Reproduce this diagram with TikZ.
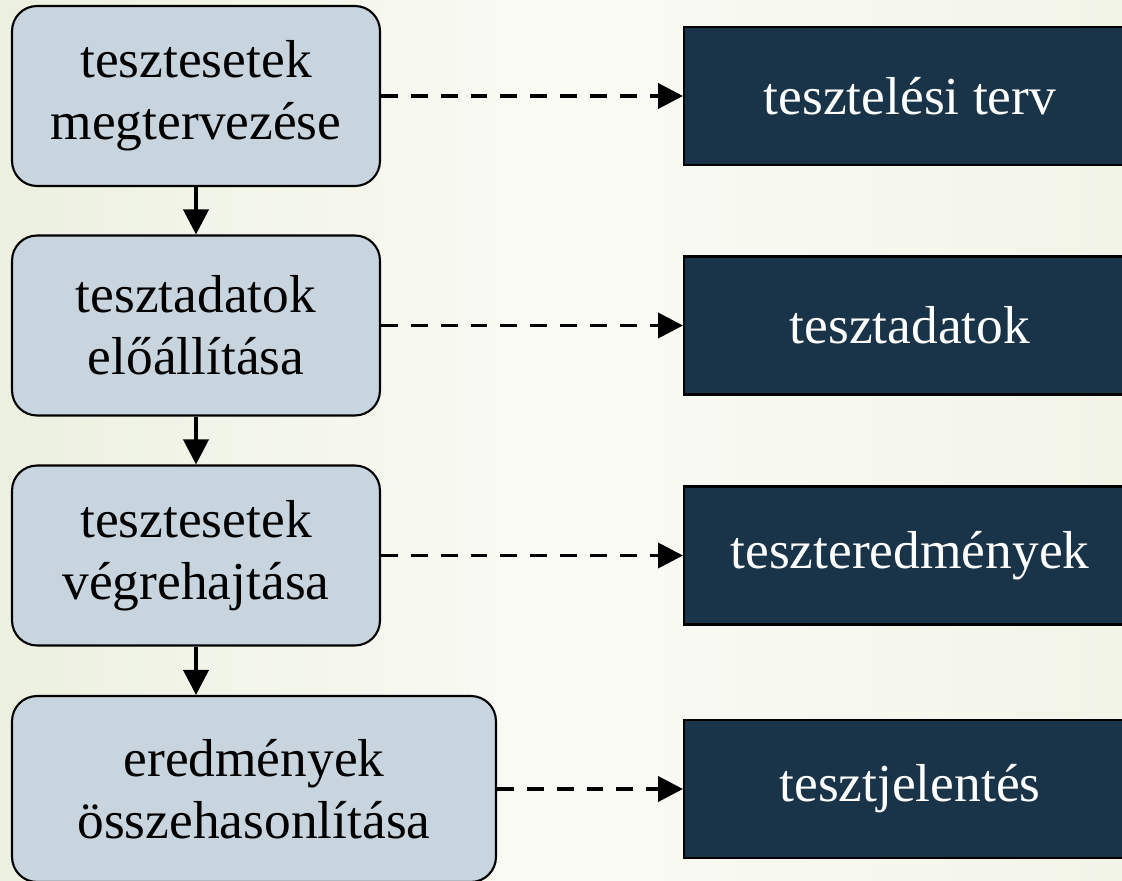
\documentclass[tikz,border=0pt]{standalone}
\usepackage{fontspec}
\setmainfont{Liberation Serif}
\usepackage{xcolor}
\usetikzlibrary{arrows.meta,positioning}
\definecolor{tjStep}  {RGB}{200,212,222}
\definecolor{tjDoc}   {RGB}{ 25, 52, 73}
\definecolor{tjBgL}   {RGB}{236,240,224}
\definecolor{tjBgM}   {RGB}{250,251,245}
\definecolor{tjBgR}   {RGB}{242,244,232}

\begin{document}
\begin{tikzpicture}[
  x=0.02cm,y=-0.02cm,
  every node/.style={font=\fontsize{30.4}{35.3}\selectfont},
  stage/.style ={draw=black,fill=tjStep,line width=1.2pt,rounded corners=0.5cm,
                 minimum width=7.36cm,minimum height=3.6cm,align=center},
  outdoc/.style={draw=black,fill=tjDoc,text=white,line width=1.2pt,
                 minimum width=9.04cm,minimum height=2.76cm,align=center},
  flow/.style  ={-{Triangle[length=0.5cm,width=0.5cm]},line width=2.2pt},
  feed/.style  ={flow,dash pattern=on 9.6pt off 7.4pt}
]
\useasboundingbox (0,0) rectangle (1122,881);
\clip (0,0) rectangle (1122,881);
\shade[left color=tjBgL,right color=tjBgR,middle color=tjBgM] (0,0) rectangle (1122,881);

\node[stage] (b1) at (196,96)    {tesztesetek\\megtervezése};
\node[stage] (b2) at (196,325.5) {tesztadatok\\előállítása};
\node[stage] (b3) at (196,555.5) {tesztesetek\\végrehajtása};
\node[stage,minimum width=9.68cm,minimum height=3.72cm] (b4) at (254,789)
   {eredmények\\összehasonlítása};

\node[outdoc] (r1) at (910,96)    {tesztelési terv};
\node[outdoc] (r2) at (910,325.5) {tesztadatok};
\node[outdoc] (r3) at (910,555.5) {teszteredmények};
\node[outdoc] (r4) at (910,789)   {tesztjelentés};

\foreach \i/\j in {b1/b2,b2/b3}
  \draw[flow] (\i) -- (\j);
\draw[flow] (b3) -- (b3 |- b4.north);
\foreach \i/\j in {b1/r1,b2/r2,b3/r3,b4/r4}
  \draw[feed] (\i) -- (\j);
\end{tikzpicture}
\end{document}
